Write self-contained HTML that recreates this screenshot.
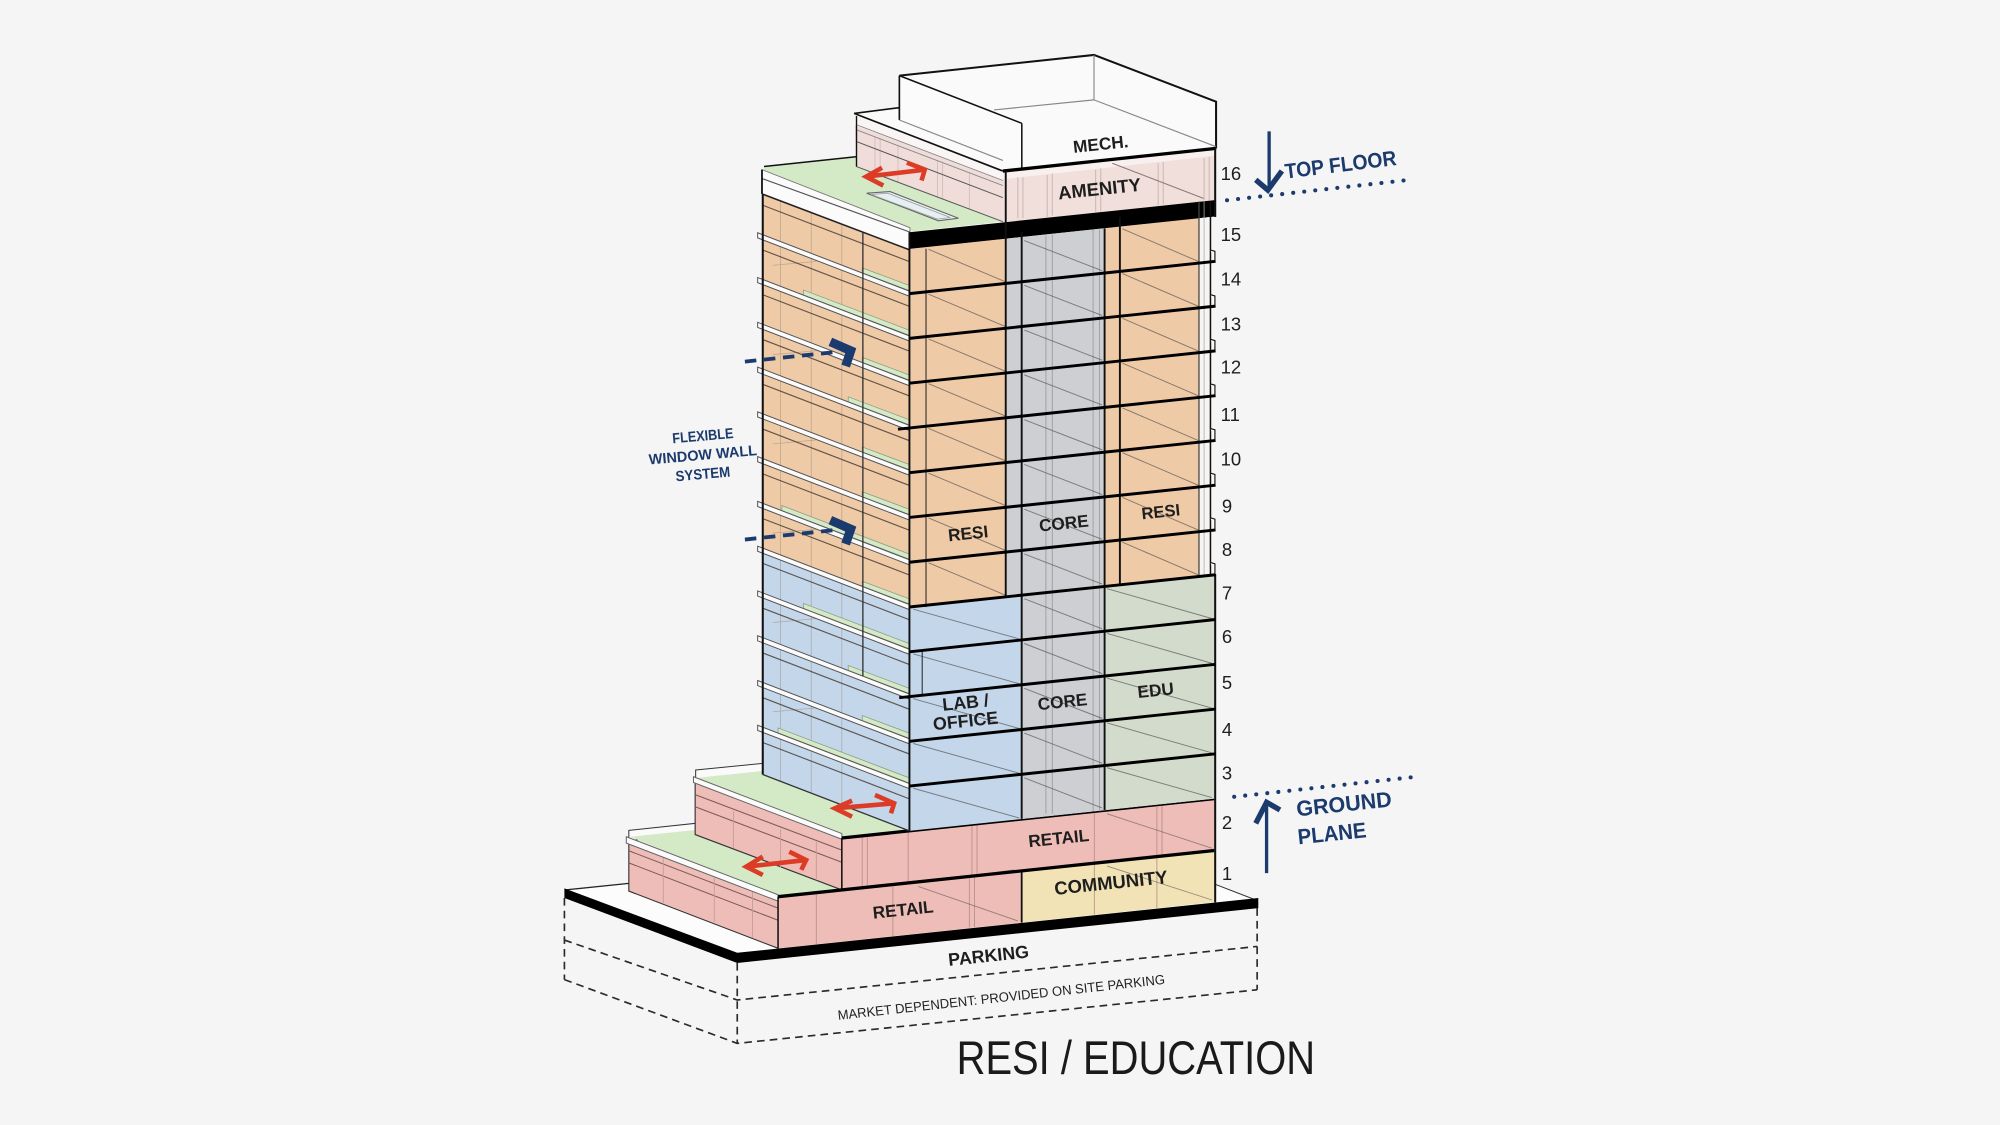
<!DOCTYPE html>
<html><head><meta charset="utf-8">
<style>
html,body{margin:0;padding:0;background:#f5f5f5;}
svg{display:block;}
.lb{font-family:"Liberation Sans",sans-serif;font-weight:bold;fill:#1e1e1e;}
.nv{font-family:"Liberation Sans",sans-serif;font-weight:bold;fill:#1b3a6d;}
.num{font-family:"Liberation Sans",sans-serif;fill:#1e1e1e;font-size:14.5px;}
</style></head><body>
<svg width="2000" height="1125" viewBox="0 0 1568 882" xmlns="http://www.w3.org/2000/svg">
<rect x="0" y="0" width="1568" height="882" fill="#f5f5f5"/>

<!-- slab top -->
<polygon points="442.5,697.8 493,692.6 952,693 985.6,706 578,749" fill="#fcfcfc"/>
<line x1="952" y1="693" x2="985.6" y2="706" stroke="#333" stroke-width="0.8"/>
<line x1="442.5" y1="697.8" x2="493" y2="692.6" stroke="#222" stroke-width="1"/>

<!-- dashed parking box -->
<g fill="none" stroke="#2a2a2a" stroke-width="1.3" stroke-dasharray="6 4">
<line x1="442.5" y1="704" x2="442.5" y2="768"/>
<line x1="578" y1="755" x2="578" y2="818"/>
<line x1="985.6" y1="712" x2="985.6" y2="776"/>
<polyline points="442.5,737 578,784 985.6,742"/>
<polyline points="442.5,768 578,818 985.6,776"/>
</g>

<!-- lower podium left face -->
<polygon points="493,658 610,703 610,743.5 493,698.6" fill="#efbdb7" stroke="#333" stroke-width="0.9"/>
<line x1="493" y1="667" x2="610" y2="712" stroke="#7a5a58" stroke-width="0.8"/>
<line x1="493" y1="676.5" x2="610" y2="721.5" stroke="#7a5a58" stroke-width="0.8"/>
<g stroke="#c79b96" stroke-width="0.7">
<line x1="520" y1="672" x2="520" y2="708"/><line x1="560" y1="688" x2="560" y2="723"/><line x1="590" y1="699" x2="590" y2="735"/>
</g>
<!-- lower terrace -->
<polygon points="493,651 547,645.3 547,654.3 493,659" fill="#fafafa" stroke="#333" stroke-width="0.8"/>
<polygon points="494,656 547,650.5 547,654.3 660,697.7 610,703" fill="#d4e9c6"/>
<polygon points="491,656 610,701.5 610,706.5 491,661" fill="#fbfbfb" stroke="#666" stroke-width="0.8"/>

<!-- upper podium left face -->
<polygon points="545,613.6 660,657 660,697.7 545,654.3" fill="#efbdb7" stroke="#333" stroke-width="0.9"/>
<line x1="545" y1="623" x2="660" y2="666.5" stroke="#7a5a58" stroke-width="0.8"/>
<line x1="545" y1="632.5" x2="660" y2="676" stroke="#7a5a58" stroke-width="0.8"/>
<g stroke="#c79b96" stroke-width="0.7">
<line x1="575" y1="636" x2="575" y2="665"/><line x1="612" y1="650" x2="612" y2="680"/><line x1="640" y1="660" x2="640" y2="690"/>
</g>
<!-- upper terrace -->
<polygon points="545.4,603.7 598,598.5 598,607.2 545.4,611.5" fill="#fafafa" stroke="#333" stroke-width="0.8"/>
<polygon points="545.4,610 598,604.5 598,607.2 713,651.4 660,657" fill="#d4e9c6"/>
<polygon points="543.7,609 660,653.5 660,658 543.7,613.5" fill="#fbfbfb" stroke="#666" stroke-width="0.8"/>

<!-- podium front faces -->
<polygon points="660,657 952,626.1 952,666.8 660,697.7" fill="#efbdb7"/>
<polygon points="610,703 801,682.8 801,723.3 610,743.5" fill="#efbdb7"/>
<polygon points="801,682.8 952,666.8 952,707.3 801,723.3" fill="#f2e3b6"/>
<g stroke="#b48c88" stroke-width="0.8" opacity="0.8">
<line x1="676" y1="656" x2="676" y2="695"/><line x1="680" y1="656" x2="680" y2="694"/>
<line x1="712" y1="652" x2="712" y2="692"/><line x1="762" y1="647" x2="762" y2="686"/>
<line x1="766" y1="646" x2="766" y2="686"/><line x1="858" y1="637" x2="858" y2="676"/>
<line x1="907" y1="632" x2="907" y2="671"/><line x1="911" y1="631" x2="911" y2="671"/>
<line x1="640" y1="701" x2="640" y2="740"/><line x1="700" y1="695" x2="700" y2="734"/>
<line x1="760" y1="688" x2="760" y2="727"/><line x1="764" y1="688" x2="764" y2="727"/>
<line x1="858" y1="678" x2="858" y2="717"/><line x1="907" y1="673" x2="907" y2="712"/>
</g>
<g stroke="#555" stroke-width="0.7" opacity="0.6">
<line x1="868" y1="638" x2="950" y2="665"/><line x1="868" y1="679" x2="950" y2="705.5"/>
<line x1="720" y1="695" x2="798" y2="722"/><line x1="705" y1="694" x2="795" y2="682"/>
</g>
<line x1="801" y1="682.8" x2="801" y2="723.3" stroke="#111" stroke-width="1.4"/>
<line x1="610" y1="703" x2="610" y2="743.5" stroke="#111" stroke-width="1.2"/>
<line x1="660" y1="657" x2="660" y2="697.7" stroke="#111" stroke-width="1.2"/>
<line x1="660" y1="657" x2="952" y2="626.1" stroke="#000" stroke-width="2.6"/>
<line x1="610" y1="703" x2="952" y2="666.8" stroke="#000" stroke-width="2.6"/>

<!-- tower left face -->
<polygon points="598,150.9 713,195.1 713,475.9 598,431.7" fill="#efcaa6"/>
<polygon points="598,431.7 713,475.9 713,651.4 598,607.2" fill="#c3d6ea"/>
<g stroke="#9c8c80" stroke-width="0.6" opacity="0.6">
<line x1="612" y1="158" x2="612" y2="612"/><line x1="636" y1="166" x2="636" y2="621"/><line x1="660" y1="176" x2="660" y2="630"/>
<line x1="606" y1="208" x2="640" y2="205"/><line x1="606" y1="278" x2="640" y2="275"/><line x1="606" y1="348" x2="640" y2="345"/>
<line x1="606" y1="418" x2="640" y2="415"/><line x1="606" y1="488" x2="640" y2="485"/><line x1="606" y1="558" x2="640" y2="555"/>
</g>
<g stroke="#4a3f36" stroke-width="0.9" opacity="0.85">
<line x1="598" y1="160.9" x2="713" y2="205.1"/><line x1="598" y1="196" x2="713" y2="240.2"/>
<line x1="598" y1="231.1" x2="713" y2="275.3"/><line x1="598" y1="266.2" x2="713" y2="310.4"/>
<line x1="598" y1="301.3" x2="713" y2="345.5"/><line x1="598" y1="336.4" x2="713" y2="380.6"/>
<line x1="598" y1="371.5" x2="713" y2="415.7"/><line x1="598" y1="406.6" x2="713" y2="450.8"/>
<line x1="598" y1="441.7" x2="713" y2="485.9"/><line x1="598" y1="476.8" x2="713" y2="521"/>
<line x1="598" y1="511.9" x2="713" y2="556.1"/><line x1="598" y1="547" x2="713" y2="591.2"/>
<line x1="598" y1="582.1" x2="713" y2="626.3"/>
</g>
<!-- balconies -->
<g fill="#d4e9c6" stroke="#8a9a80" stroke-width="0.6">
<polygon points="676,210 714,224.2 714,228.2 676,214"/>
<polygon points="630,227.4 714,259.3 714,263.3 630,231.4"/>
<polygon points="676,280.2 714,294.4 714,298.4 676,284.2"/>
<polygon points="665,311.1 714,329.5 714,333.5 665,315.1"/>
<polygon points="676,350.4 714,364.6 714,368.6 676,354.4"/>
<polygon points="676,385.5 714,399.7 714,403.7 676,389.5"/>
<polygon points="613,396.4 714,434.8 714,438.8 613,400.4"/>
<polygon points="676,455.7 714,469.9 714,473.9 676,459.7"/>
<polygon points="630,473.1 714,505 714,509 630,477.1"/>
<polygon points="665,521.7 714,540.1 714,544.1 665,525.7"/>
<polygon points="676,561 714,575.2 714,579.2 676,565"/>
<polygon points="610,570.7 714,610.3 714,614.3 610,574.7"/>
</g>
<!-- ledges -->
<g fill="#fbfbfb" stroke="#555" stroke-width="0.8">
<polygon points="594,182.5 716,229.4 716,233.4 594,186.5"/>
<polygon points="594,217.6 716,264.5 716,268.5 594,221.6"/>
<polygon points="594,252.7 716,299.6 716,303.6 594,256.7"/>
<polygon points="594,287.8 716,334.7 716,338.7 594,291.8"/>
<polygon points="594,322.9 716,369.8 716,373.8 594,326.9"/>
<polygon points="594,358 716,404.9 716,408.9 594,362"/>
<polygon points="594,393.1 716,440 716,444 594,397.1"/>
<polygon points="594,428.2 716,475.1 716,479.1 594,432.2"/>
<polygon points="594,463.3 716,510.2 716,514.2 594,467.3"/>
<polygon points="594,498.4 716,545.3 716,549.3 594,502.4"/>
<polygon points="594,533.5 716,580.4 716,584.4 594,537.5"/>
<polygon points="594,568.6 716,615.5 716,619.5 594,572.6"/>
</g>
<line x1="676.5" y1="182" x2="676.5" y2="530" stroke="#2b2b2b" stroke-width="1"/>
<line x1="598" y1="140" x2="598" y2="607.2" stroke="#111" stroke-width="1.6"/>
<line x1="598" y1="607.2" x2="713" y2="651.4" stroke="#333" stroke-width="1"/>

<!-- top terrace and parapet -->
<polygon points="599,131 672,123.5 786.3,173.8 713.4,181.6 597.4,140" fill="#d4e9c6"/>
<line x1="599" y1="130.5" x2="672" y2="122.8" stroke="#111" stroke-width="1.2"/>
<polygon points="679.5,151.5 697.8,150.2 751.4,171.1 735.7,173.1" fill="#e6f0f3" stroke="#666" stroke-width="0.9"/>
<polygon points="683,152.5 696,151.5 745,170.5 735,171.8" fill="none" stroke="#999" stroke-width="0.6"/>
<polygon points="597.4,133 713.4,178.5 713.4,182 597.4,140" fill="#fbfbfb" stroke="#777" stroke-width="0.7"/>
<polygon points="597.4,140 713.4,182 713.4,196 597.4,152" fill="#fbfbfb"/>
<line x1="597.4" y1="140" x2="713.4" y2="182" stroke="#555" stroke-width="0.9"/>
<line x1="597.4" y1="152" x2="713.4" y2="196" stroke="#222" stroke-width="1.2"/>
<line x1="597.4" y1="133" x2="597.4" y2="152" stroke="#111" stroke-width="1.4"/>

<!-- top white mass (amenity roof + mech) -->
<polygon points="669.6,88.9 705.1,84.4 705.1,59.3 857.7,43.1 953.4,79.7 953.4,116.3 786.3,134.1" fill="#fafafa"/>
<!-- amenity left face -->
<polygon points="669.6,88.9 786.3,134.1 786.3,173.8 671.5,130.6" fill="#f0ddd9"/>
<polygon points="669.6,88.9 786.3,134.1 786.3,141 669.6,98" fill="#f9f5f4"/>
<g stroke="#d2bcb8" stroke-width="0.7">
<line x1="686" y1="107" x2="686" y2="136.3"/><line x1="690" y1="108" x2="690" y2="138"/>
<line x1="704" y1="114" x2="704" y2="143.1"/><line x1="735" y1="126" x2="735" y2="154.8"/>
<line x1="739" y1="128" x2="739" y2="156"/><line x1="760" y1="136" x2="760" y2="164.3"/>
</g>
<line x1="672" y1="98" x2="786.3" y2="141.5" stroke="#888" stroke-width="0.7"/>
<line x1="672" y1="102" x2="786.3" y2="145.5" stroke="#888" stroke-width="0.7"/>
<line x1="671.5" y1="111" x2="786.3" y2="155" stroke="#555" stroke-width="0.8"/>
<line x1="671.5" y1="130.6" x2="786.3" y2="173.8" stroke="#555" stroke-width="0.8"/>
<line x1="671.5" y1="91" x2="671.5" y2="130.6" stroke="#111" stroke-width="1.1"/>
<line x1="669.6" y1="88.9" x2="786.3" y2="134.1" stroke="#111" stroke-width="1.3"/>
<line x1="669.6" y1="88.9" x2="705.1" y2="84.4" stroke="#111" stroke-width="1.3"/>
<!-- mech -->
<polygon points="705.1,59.3 801.1,96.7 801.1,131 705.1,94.1" fill="#fbfbfb"/>
<g fill="none" stroke="#111">
<polyline points="705.1,59.3 857.7,43.1 953.4,79.7 953.4,116.3" stroke-width="1.6"/>
<line x1="705.1" y1="59.3" x2="705.1" y2="94.1" stroke-width="1.3"/>
<line x1="705.1" y1="59.3" x2="801.1" y2="96.7" stroke-width="1.2"/>
<line x1="801.1" y1="96.7" x2="801.1" y2="132" stroke-width="1.2"/>
</g>
<g stroke="#888" stroke-width="0.9">
<line x1="705.1" y1="94.1" x2="786.3" y2="125.8"/>
<line x1="779.3" y1="86.2" x2="857.7" y2="78.3"/>
<line x1="857.7" y1="43.1" x2="857.7" y2="78.3"/>
<line x1="857.7" y1="78.3" x2="953.4" y2="115"/>
</g>
<!-- amenity front -->
<polygon points="786.3,134.1 953.4,116.3 953.4,157 786.3,174.8" fill="#f1dfdb"/>
<polygon points="786.3,134.1 953.4,116.3 953.4,122 786.3,140.5" fill="#f8f0ee"/>
<g stroke="#cbb6b2" stroke-width="0.8">
<line x1="798" y1="139" x2="798" y2="171"/><line x1="802" y1="139" x2="802" y2="171"/>
<line x1="821" y1="137" x2="821" y2="170"/><line x1="825" y1="136" x2="825" y2="169"/>
<line x1="859" y1="133" x2="859" y2="166"/><line x1="863" y1="132" x2="863" y2="166"/>
<line x1="908" y1="128" x2="908" y2="161"/><line x1="912" y1="127" x2="912" y2="160"/>
<line x1="944" y1="124" x2="944" y2="157"/><line x1="948" y1="123" x2="948" y2="157"/>
</g>
<line x1="872" y1="128" x2="943.5" y2="155.5" stroke="#8a7a78" stroke-width="0.8"/>
<line x1="786.3" y1="134.1" x2="953.4" y2="116.3" stroke="#000" stroke-width="2.6"/>
<!-- black band -->
<polygon points="713,182.1 953.4,156.8 953.4,170 713,195.3" fill="#000"/>

<!-- tower front face -->
<polygon points="713,195.1 952,169.8 952,450.6 713,475.9" fill="#efcaa6"/>
<polygon points="789,187.1 866,178.9 866,459.7 789,467.9" fill="#cecfd2"/>
<polygon points="940,171.1 952.5,169.8 952.5,450.6 940,451.9" fill="#f5f5f5"/>
<polygon points="940,171.1 949,170.1 949,451 940,451.9" fill="#f7f5f3"/>
<polygon points="713,475.9 952,450.6 952,626.1 713,651.4" fill="#c3d6ea"/>
<polygon points="801,466.6 866,459.7 866,635.2 801,642.1" fill="#cecfd2"/>
<polygon points="866,459.7 952,450.6 952,626.1 866,635.2" fill="#d3dbcc"/>

<g stroke="#9e9e9e" stroke-width="0.7">
<line x1="820" y1="185" x2="820" y2="638"/><line x1="825" y1="184" x2="825" y2="638"/>
<line x1="857" y1="180" x2="857" y2="636"/><line x1="862" y1="180" x2="862" y2="636"/>
</g>
<g stroke="#4d4d4d" stroke-width="0.75" opacity="0.65">
<line x1="728" y1="195.5" x2="789" y2="221.2"/><line x1="728" y1="230.6" x2="789" y2="256.3"/>
<line x1="728" y1="265.7" x2="789" y2="291.4"/><line x1="728" y1="300.8" x2="789" y2="326.5"/>
<line x1="728" y1="335.9" x2="789" y2="361.6"/><line x1="728" y1="371" x2="789" y2="396.7"/>
<line x1="728" y1="406.1" x2="789" y2="431.8"/><line x1="728" y1="441.2" x2="789" y2="466.9"/>
<line x1="803" y1="188.6" x2="864" y2="212.2"/><line x1="803" y1="223.7" x2="864" y2="247.3"/>
<line x1="803" y1="258.8" x2="864" y2="282.4"/><line x1="803" y1="293.9" x2="864" y2="317.5"/>
<line x1="803" y1="329" x2="864" y2="352.6"/><line x1="803" y1="364.1" x2="864" y2="387.7"/>
<line x1="803" y1="399.2" x2="864" y2="422.8"/><line x1="803" y1="434.3" x2="864" y2="457.9"/>
<line x1="880" y1="179.4" x2="940" y2="205.2"/><line x1="880" y1="214.5" x2="940" y2="240.3"/>
<line x1="880" y1="249.6" x2="940" y2="275.4"/><line x1="880" y1="284.7" x2="940" y2="310.5"/>
<line x1="880" y1="319.8" x2="940" y2="345.6"/><line x1="880" y1="354.9" x2="940" y2="380.7"/>
<line x1="880" y1="390" x2="940" y2="415.8"/><line x1="880" y1="425.1" x2="940" y2="450.9"/>
<line x1="716" y1="477.6" x2="799" y2="500.9"/><line x1="716" y1="512.7" x2="799" y2="536"/>
<line x1="716" y1="547.8" x2="799" y2="571.1"/><line x1="716" y1="582.9" x2="799" y2="606.2"/>
<line x1="716" y1="618" x2="799" y2="641.3"/>
<line x1="803" y1="469.4" x2="864" y2="493"/><line x1="803" y1="504.5" x2="864" y2="528.1"/>
<line x1="803" y1="539.6" x2="864" y2="563.2"/><line x1="803" y1="574.7" x2="864" y2="598.3"/>
<line x1="803" y1="609.8" x2="864" y2="633.4"/>
<line x1="868" y1="461.5" x2="950" y2="484.9"/><line x1="868" y1="496.6" x2="950" y2="520"/>
<line x1="868" y1="531.7" x2="950" y2="555.1"/><line x1="868" y1="566.8" x2="950" y2="590.2"/>
<line x1="868" y1="601.9" x2="950" y2="625.3"/>
</g>

<!-- verticals -->
<line x1="713" y1="182" x2="713" y2="651.4" stroke="#111" stroke-width="1.5"/>
<line x1="726" y1="195" x2="726" y2="476" stroke="#222" stroke-width="0.8"/>
<line x1="723" y1="510" x2="723" y2="545" stroke="#222" stroke-width="0.8"/>
<line x1="788.5" y1="134" x2="788.5" y2="468" stroke="#111" stroke-width="1.5"/>
<line x1="801" y1="182" x2="801" y2="642" stroke="#111" stroke-width="1.5"/>
<line x1="866" y1="179" x2="866" y2="635" stroke="#111" stroke-width="1.5"/>
<line x1="878" y1="170" x2="878" y2="458" stroke="#111" stroke-width="1.5"/>
<line x1="940" y1="158" x2="940" y2="452" stroke="#444" stroke-width="1"/>
<line x1="944" y1="158" x2="944" y2="452" stroke="#aaa" stroke-width="0.6"/>
<line x1="949" y1="158" x2="949" y2="451" stroke="#111" stroke-width="1.2"/>
<!-- right column notches -->
<g fill="#fafafa" stroke="#111" stroke-width="0.9">
<polyline points="949,196 952.5,197 952.5,204.9"/>
<polyline points="949,231 952.5,232 952.5,240"/>
<polyline points="949,266 952.5,267 952.5,275.1"/>
<polyline points="949,301 952.5,302 952.5,310.2"/>
<polyline points="949,336 952.5,337 952.5,345.3"/>
<polyline points="949,371 952.5,372 952.5,380.4"/>
<polyline points="949,406 952.5,407 952.5,415.5"/>
<polyline points="949,441 952.5,442 952.5,450.6"/>
</g>
<line x1="952.7" y1="116" x2="952.7" y2="170" stroke="#111" stroke-width="1.6"/>
<line x1="952.7" y1="450" x2="952.7" y2="707.5" stroke="#111" stroke-width="1.6"/>

<!-- floor lines -->
<g stroke="#000" stroke-width="2.3">
<line x1="713" y1="230.2" x2="953" y2="204.9"/>
<line x1="713" y1="265.3" x2="953" y2="240"/>
<line x1="713" y1="300.4" x2="953" y2="275.1"/>
<line x1="704" y1="336.5" x2="953" y2="310.2"/>
<line x1="713" y1="370.6" x2="953" y2="345.3"/>
<line x1="713" y1="405.7" x2="953" y2="380.4"/>
<line x1="713" y1="440.8" x2="953" y2="415.5"/>
<line x1="713" y1="475.9" x2="953" y2="450.6"/>
<line x1="713" y1="511" x2="953" y2="485.7"/>
<line x1="705" y1="547" x2="953" y2="520.8"/>
<line x1="713" y1="581.2" x2="953" y2="555.9"/>
<line x1="713" y1="616.3" x2="953" y2="591"/>
</g>

<!-- slab thick edge -->
<polygon points="442.5,696.5 578,747 986.5,704 986.5,712 578,755 442.5,704" fill="#000"/>

<!-- labels -->
<text class="lb" x="863" y="117.6" font-size="13.5" text-anchor="middle" transform="rotate(-6 863 113)">MECH.</text>
<text class="lb" x="862" y="153" font-size="14.5" text-anchor="middle" transform="rotate(-6 862 148)">AMENITY</text>
<text class="lb" x="759" y="422.8" font-size="13.5" text-anchor="middle" transform="rotate(-6 759 418)">RESI</text>
<text class="lb" x="834" y="414.8" font-size="13.5" text-anchor="middle" transform="rotate(-6 834 410)">CORE</text>
<text class="lb" x="910" y="405.6" font-size="13" text-anchor="middle" transform="rotate(-6 910 401)">RESI</text>
<text class="lb" x="757" y="555.5" font-size="14" text-anchor="middle" transform="rotate(-6 757 551)">LAB /</text>
<text class="lb" x="757" y="569.9" font-size="14" text-anchor="middle" transform="rotate(-6 757 565)">OFFICE</text>
<text class="lb" x="833" y="554.8" font-size="13.5" text-anchor="middle" transform="rotate(-6 833 550)">CORE</text>
<text class="lb" x="906" y="545.8" font-size="13.5" text-anchor="middle" transform="rotate(-6 906 541)">EDU</text>
<text class="lb" x="830" y="661.8" font-size="13.5" text-anchor="middle" transform="rotate(-6 830 657)">RETAIL</text>
<text class="lb" x="871" y="697" font-size="14.5" text-anchor="middle" transform="rotate(-6 871 692)">COMMUNITY</text>
<text class="lb" x="708" y="717.8" font-size="13.5" text-anchor="middle" transform="rotate(-6 708 713)">RETAIL</text>
<text class="lb" x="775" y="754" font-size="14" text-anchor="middle" transform="rotate(-6 775 749)">PARKING</text>
<text x="785" y="785.5" font-size="10.5" text-anchor="middle" textLength="258" lengthAdjust="spacingAndGlyphs" fill="#222" font-family="Liberation Sans, sans-serif" transform="rotate(-6.3 785 782)">MARKET DEPENDENT: PROVIDED ON SITE PARKING</text>

<!-- floor numbers -->
<g class="num">
<text x="957" y="141">16</text><text x="957" y="189">15</text><text x="957" y="224">14</text>
<text x="957" y="259">13</text><text x="957" y="293">12</text><text x="957" y="330">11</text>
<text x="957" y="365">10</text><text x="958" y="402">9</text><text x="958" y="436">8</text>
<text x="958" y="470">7</text><text x="958" y="504">6</text><text x="958" y="540">5</text>
<text x="958" y="577">4</text><text x="958" y="611">3</text><text x="958" y="650">2</text>
<text x="958" y="690">1</text>
</g>

<!-- red arrows -->
<g fill="none" stroke="#dc3c26" stroke-width="3.6" stroke-linejoin="miter">
<line x1="680" y1="138.4" x2="724" y2="133.2"/>
<polyline points="691.5,131.5 679,138.5 692.5,145.5"/>
<polyline points="711,127.5 725,133 722.5,141.5"/>
<line x1="655.5" y1="633.6" x2="700" y2="629.9"/>
<polyline points="668,627.7 654.5,633.7 668,640.3"/>
<polyline points="686,623.3 701,629.8 698.5,637.6"/>
<line x1="586" y1="679.4" x2="631" y2="674.4"/>
<polyline points="598,671.6 585,679.5 598,686"/>
<polyline points="618.8,667.7 632,674.3 628.2,682"/>
</g>

<!-- navy annotations -->
<g fill="none" stroke="#1b3a6d">
<line x1="995" y1="103" x2="995" y2="146" stroke-width="2.6"/>
<polyline points="984.5,141 994,149 1005,134" stroke-width="4.2"/>
<line x1="993" y1="684.5" x2="993" y2="632" stroke-width="2.6"/>
<polyline points="984.5,645.5 993,629 1003.5,635" stroke-width="4.2"/>
<line x1="962" y1="157" x2="1105" y2="141" stroke-width="3.2" stroke-linecap="round" stroke-dasharray="0 8.7"/>
<line x1="967.6" y1="624.7" x2="1110" y2="609" stroke-width="3.2" stroke-linecap="round" stroke-dasharray="0 8.7"/>
<line x1="584" y1="283.5" x2="655" y2="276" stroke-width="3" stroke-dasharray="9 6"/>
<polyline points="651,268 667,275 663,287" stroke-width="7" stroke-linejoin="miter"/>
<line x1="584" y1="423" x2="655" y2="415.5" stroke-width="3" stroke-dasharray="9 6"/>
<polyline points="651,407.8 667,414.8 663,426.5" stroke-width="7" stroke-linejoin="miter"/>
</g>
<text class="nv" x="1008" y="140" font-size="16.5" textLength="88" lengthAdjust="spacingAndGlyphs" transform="rotate(-7 1008 140)">TOP FLOOR</text>
<text class="nv" x="1017" y="640" font-size="17" textLength="75" lengthAdjust="spacingAndGlyphs" transform="rotate(-6 1017 640)">GROUND</text>
<text class="nv" x="1018" y="662" font-size="17" textLength="54" lengthAdjust="spacingAndGlyphs" transform="rotate(-6 1018 662)">PLANE</text>
<text class="nv" x="551" y="345.5" font-size="11.5" text-anchor="middle" textLength="48" lengthAdjust="spacingAndGlyphs" transform="rotate(-5 551 341)">FLEXIBLE</text>
<text class="nv" x="551" y="360.5" font-size="11.5" text-anchor="middle" textLength="85" lengthAdjust="spacingAndGlyphs" transform="rotate(-5 551 356)">WINDOW WALL</text>
<text class="nv" x="551" y="375.5" font-size="11.5" text-anchor="middle" textLength="43" lengthAdjust="spacingAndGlyphs" transform="rotate(-5 551 371)">SYSTEM</text>

<!-- title -->
<text x="750" y="842" font-size="37" textLength="281" lengthAdjust="spacingAndGlyphs" fill="#1a1a1a" font-family="Liberation Sans, sans-serif">RESI / EDUCATION</text>
</svg>
</body></html>
